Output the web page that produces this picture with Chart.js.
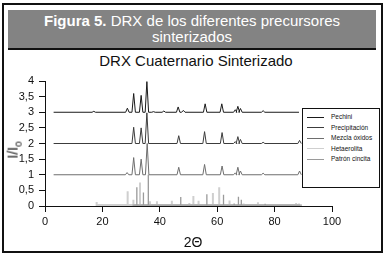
<!DOCTYPE html>
<html>
<head>
<meta charset="utf-8">
<script src="https://cdn.jsdelivr.net/npm/chart.js@4.4.1/dist/chart.umd.min.js"></script>
<style>
  html, body { margin: 0; padding: 0; background: #fff; }
  body { width: 386px; height: 256px; position: relative; overflow: hidden; font-family: "Liberation Sans", Arial, sans-serif; }
  #frame { position: absolute; left: 2px; top: 3px; width: 377px; height: 246px; border: 2px solid #111; }
  #head { position: absolute; left: 8px; top: 10px; width: 368px; height: 38px; background: #838383; color: #fff; text-align: center; font-size: 15px; line-height: 16px; }
  #head .txt { position: absolute; left: 0; right: 0; top: 3px; }
  #headLine { position: absolute; left: 8px; top: 48px; width: 368px; height: 2px; background: #111; }
  #title { position: absolute; left: 0; width: 392px; top: 53px; text-align: center; font-size: 15px; line-height: 15px; color: #111; }
  #ytitle { position: absolute; left: 14px; top: 150px; transform: translate(-50%, -50%) rotate(-90deg); font-size: 14px; color: #111; white-space: nowrap; }
  #ytitle sub { font-size: 10px; }
  #xtitle { position: absolute; left: 0; width: 386px; top: 235px; text-align: center; font-size: 14px; line-height: 14px; color: #111; }
  #chart { position: absolute; left: 0; top: 0; }
  #legend { position: absolute; left: 302px; top: 108px; width: 76px; height: 78px; border: 1px solid #111; background: #fff; font-size: 6.5px; color: #111; }
  #legend .row { position: absolute; left: 4px; height: 8px; line-height: 8px; }
  #legend .sw { display: inline-block; width: 17px; height: 1px; vertical-align: middle; margin-right: 7px; }
</style>
</head>
<body>
<div id="frame"></div>
<div id="head"><div class="txt"><b>Figura 5.</b> DRX de los diferentes precursores<br>sinterizados</div></div>
<div id="headLine"></div>
<div id="title">DRX Cuaternario Sinterizado</div>
<canvas id="chart" width="386" height="256"></canvas>
<div id="ytitle">I/I<sub>o</sub></div>
<div id="xtitle">2Θ</div>
<div id="legend"></div>
<script>
  // axis ticks
  const xTicks = [0, 20, 40, 60, 80, 100];
  const yTicks = [0, 0.5, 1, 1.5, 2, 2.5, 3, 3.5, 4];
  const yTickLabels = ["0", "0,5", "1", "1,5", "2", "2,5", "3", "3,5", "4"];

  // series names / colours
  const seriesNames = ["Pechini", "Precipitación", "Mezcla óxidos", "Hetaerolita", "Patrón cincita"];
  const seriesColors = ["#1a1a1a", "#3c3c3c", "#6e6e6e", "#cfcfcf", "#9a9a9a"];

  // DRX patterns: offset baseline, 2θ range, peak positions and heights (above baseline)
  const pechiniBase = 3;
  const pechiniRange = [3, 88.5];
  const pechiniPos = [17.0, 28.7, 30.9, 33.5, 35.5, 37.8, 41.4, 46.4, 48.2, 55.8, 61.6, 66.3, 67.2, 68.1, 76.0];
  const pechiniH = [0.03, 0.13, 0.6, 0.54, 0.98, 0.02, 0.04, 0.17, 0.06, 0.27, 0.27, 0.08, 0.19, 0.12, 0.05];

  const precipBase = 2;
  const precipRange = [3, 89.5];
  const precipPos = [30.9, 33.5, 35.5, 46.6, 55.6, 61.7, 66.3, 67.2, 68.1, 76.0, 88.7];
  const precipH = [0.52, 0.5, 0.98, 0.25, 0.38, 0.35, 0.06, 0.22, 0.13, 0.04, 0.1];

  const mezclaBase = 1;
  const mezclaRange = [3, 89.5];
  const mezclaPos = [28.6, 30.9, 33.5, 35.6, 46.6, 55.6, 61.7, 66.3, 67.2, 68.1, 76.0, 88.7];
  const mezclaH = [0.07, 0.55, 0.5, 1.0, 0.24, 0.33, 0.28, 0.06, 0.24, 0.12, 0.05, 0.12];

  // reference patterns (sticks from 0)
  const hetaeroRange = [18, 31];
  const hetaeroPos = [18.0, 28.8, 30.8, 33.1, 36.6, 39.0, 44.2, 50.3, 51.7, 53.5, 58.5, 60.7, 64.3, 69.2, 70.6, 72.1, 74.2, 77.9, 80.8, 82.2, 83.7, 87.5, 88.5];
  const hetaeroH = [0.13, 0.47, 0.2, 0.75, 0.15, 0.15, 0.17, 0.1, 0.32, 0.17, 0.42, 0.6, 0.18, 0.08, 0.06, 0.06, 0.12, 0.06, 0.06, 0.06, 0.06, 0.1, 0.08];

  const cincitaRange = [30.5, 89.5];
  const cincitaPos = [32.0, 34.3, 36.0, 47.3, 56.4, 62.2, 65.9, 67.4, 68.4, 72.9, 76.7, 86.0];
  const cincitaH = [0.6, 0.43, 1.0, 0.29, 0.38, 0.36, 0.08, 0.3, 0.2, 0.05, 0.07, 0.05];

  const peakHalf = 0.6;
  const stickBase = 0.03;

  function trace(range, base, pos, h) {
    const pts = [{ x: range[0], y: base }];
    pos.forEach((p, i) => {
      pts.push({ x: p - peakHalf, y: base }, { x: p, y: base + h[i] }, { x: p + peakHalf, y: base });
    });
    pts.push({ x: range[1], y: base });
    return pts;
  }

  function sticks(range, pos, h) {
    const pts = [{ x: range[0], y: stickBase }];
    pos.forEach((p, i) => {
      pts.push({ x: p, y: stickBase }, { x: p, y: h[i] }, { x: p, y: stickBase });
    });
    if (pos[pos.length - 1] < range[1]) pts.push({ x: range[1], y: stickBase });
    return pts;
  }

  const datasets = [
    { label: seriesNames[0], data: trace(pechiniRange, pechiniBase, pechiniPos, pechiniH), borderColor: seriesColors[0], borderWidth: 1, order: 0 },
    { label: seriesNames[1], data: trace(precipRange, precipBase, precipPos, precipH), borderColor: seriesColors[1], borderWidth: 1, order: 1 },
    { label: seriesNames[2], data: trace(mezclaRange, mezclaBase, mezclaPos, mezclaH), borderColor: seriesColors[2], borderWidth: 1, order: 2 },
    { label: seriesNames[3], data: sticks(hetaeroRange, hetaeroPos, hetaeroH), borderColor: seriesColors[3], borderWidth: 2, order: 4 },
    { label: seriesNames[4], data: sticks(cincitaRange, cincitaPos, cincitaH), borderColor: seriesColors[4], borderWidth: 1.3, order: 3 },
  ];
  datasets.forEach((d) => Object.assign(d, { pointRadius: 0, tension: 0, fill: false, borderJoinStyle: "miter" }));

  const tickFont = { family: "'Liberation Sans', Arial, sans-serif", size: 11 };

  new Chart(document.getElementById("chart"), {
    type: "line",
    data: { datasets },
    options: {
      responsive: false,
      animation: false,
      devicePixelRatio: 1,
      layout: { padding: { left: 0, right: 54, top: 81, bottom: 30 } },
      plugins: { legend: { display: false }, tooltip: { enabled: false } },
      scales: {
        x: {
          type: "linear",
          min: 0,
          max: 100,
          afterBuildTicks: (s) => { s.ticks = xTicks.map((v) => ({ value: v })); },
          afterFit: (s) => { s.height = 20; },
          ticks: { color: "#111", font: tickFont, padding: 3, maxRotation: 0, autoSkip: false },
          grid: { drawOnChartArea: false, drawTicks: true, tickLength: 6, color: "#111" },
          border: { color: "#111", width: 1 },
        },
        y: {
          type: "linear",
          min: 0,
          max: 4,
          afterBuildTicks: (s) => { s.ticks = yTicks.map((v) => ({ value: v })); },
          afterFit: (s) => { s.width = 45; },
          ticks: { color: "#111", font: tickFont, padding: 5, autoSkip: false, callback: (v) => yTickLabels[yTicks.indexOf(v)] },
          grid: { drawOnChartArea: false, drawTicks: true, tickLength: 6, color: "#111" },
          border: { color: "#111", width: 1 },
        },
      },
    },
  });

  // legend box
  const legend = document.getElementById("legend");
  legend.innerHTML = seriesNames
    .map((n, i) => `<div class="row" style="top:${4 + i * 10.5}px"><span class="sw" style="background:${seriesColors[i]}"></span>${n}</div>`)
    .join("");
</script>
</body>
</html>
